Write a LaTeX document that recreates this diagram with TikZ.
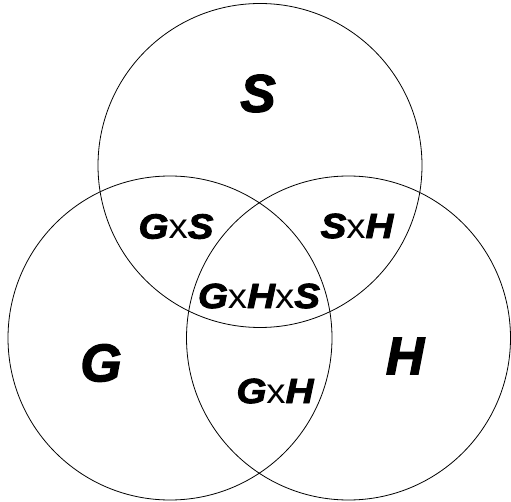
\documentclass[tikz,border=0pt]{standalone}
\usepackage{fontspec}
\setmainfont{Liberation Sans}
\newfontfamily\heavy{Liberation Sans Bold Italic}[FakeBold=2.5]
\newfontfamily\plainx{Liberation Sans}
\begin{document}
\begin{tikzpicture}[x=1pt,y=-1pt,
  ring/.style={draw=black,line width=0.8pt},
  big/.style={font=\heavy\fontsize{53}{53}\selectfont,inner sep=0pt},
  small/.style={font=\heavy\fontsize{35}{35}\selectfont,inner sep=0pt,xscale=1.1,transform shape}]
\useasboundingbox (0,0) rectangle (511,502);
\coordinate (cS) at (260,165.5);
\coordinate (cG) at (170,338);
\coordinate (cH) at (348.5,338);
\draw[ring] (cS) circle[radius=162];
\draw[ring] (cG) circle[radius=162];
\draw[ring] (cH) circle[radius=162];
\newcommand{\tx}{{\plainx x}}
\node[big] (lS) at (258,93.5) {S};
\node[big] (lG) at (101,363) {G};
\node[big] (lH) at (405,356) {H};
\node[small] (lGS) at (176,226.5) {G\tx S};
\node[small] (lSH) at (357,226) {S\tx H};
\node[small] (lGHS) at (259,296) {G\tx H\tx S};
\node[small] (lGH) at (275,391) {G\tx H};
\end{tikzpicture}
\end{document}
